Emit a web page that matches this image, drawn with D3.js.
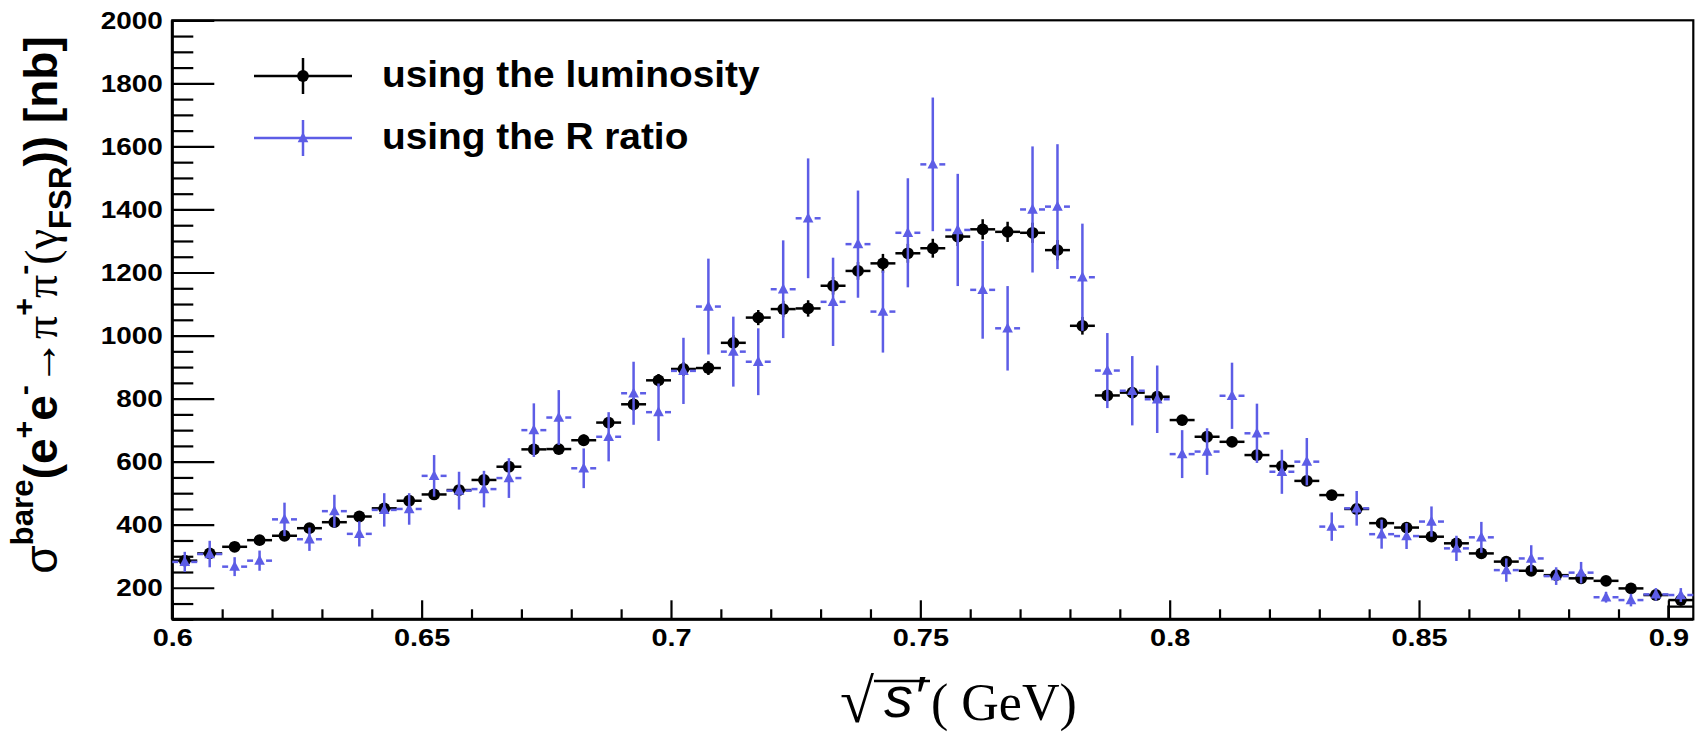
<!DOCTYPE html>
<html>
<head>
<meta charset="utf-8">
<script src="https://cdn.jsdelivr.net/npm/d3@7"></script>
<style>
  html, body { margin: 0; padding: 0; background: #ffffff; }
  svg { display: block; }
</style>
</head>
<body>
<svg id="chart" width="1702" height="740"></svg>
<script>
// Bin centres of sqrt(s') in GeV (bins 5 MeV wide)
const binCenters = [
  0.6025, 0.6075, 0.6125, 0.6175, 0.6225, 0.6275, 0.6325, 0.6375, 0.6425, 0.6475,
  0.6525, 0.6575, 0.6625, 0.6675, 0.6725, 0.6775, 0.6825, 0.6875, 0.6925, 0.6975,
  0.7025, 0.7075, 0.7125, 0.7175, 0.7225, 0.7275, 0.7325, 0.7375, 0.7425, 0.7475,
  0.7525, 0.7575, 0.7625, 0.7675, 0.7725, 0.7775, 0.7825, 0.7875, 0.7925, 0.7975,
  0.8025, 0.8075, 0.8125, 0.8175, 0.8225, 0.8275, 0.8325, 0.8375, 0.8425, 0.8475,
  0.8525, 0.8575, 0.8625, 0.8675, 0.8725, 0.8775, 0.8825, 0.8875, 0.8925, 0.8975,
  0.9025
];
const binHalfWidth = 0.0025;

// Cross section obtained with the luminosity (nb)
const lumiValues = [
  286, 309, 330, 351, 365, 389, 408, 426, 452, 476,
  496, 510, 542, 584, 639, 640, 668, 724, 782, 858,
  894, 897, 977, 1057, 1084, 1086, 1158, 1205, 1229, 1261,
  1277, 1314, 1337, 1329, 1326, 1271, 1031, 810, 819, 806,
  732, 679, 663, 621, 586, 539, 494, 450, 405, 391,
  362, 341, 309, 283, 254, 240, 230, 222, 198, 177,
  161
];
const lumiErrors = [
  8, 8, 8, 8, 10, 10, 10, 10, 12, 12,
  12, 12, 14, 14, 16, 16, 18, 18, 20, 20,
  22, 22, 24, 24, 26, 26, 28, 28, 30, 30,
  30, 30, 32, 32, 32, 32, 28, 18, 18, 18,
  16, 16, 16, 14, 14, 14, 12, 12, 10, 10,
  10, 10, 9, 9, 8, 8, 8, 7, 7, 6,
  6
];

// Cross section obtained with the R ratio (nb)
const ratioValues = [
  282, 307, 267, 286, 417, 354, 443, 371, 447, 450,
  555, 508, 513, 548, 700, 740, 579, 679, 817, 757,
  888, 1092, 949, 917, 1147, 1372, 1107, 1290, 1076, 1326,
  1543, 1335, 1145, 1023, 1400, 1409, 1185, 889, 825, 798,
  624, 632, 809, 690, 568, 600, 394, 452, 370, 364,
  410, 325, 360, 256, 293, 237, 248, 170, 161, 179,
  177
];
const ratioErrors = [
  32, 42, 30, 32, 53, 37, 52, 40, 53, 50,
  66, 60, 58, 63, 85, 87, 63, 78, 100, 91,
  105, 152, 111, 106, 155, 190, 140, 170, 130, 173,
  212, 178, 155, 134, 200, 198, 170, 119, 110, 107,
  76, 74, 105, 94, 70, 75, 45, 55, 46, 41,
  48, 40, 49, 37, 42, 28, 34, 17, 20, 20,
  22
];

// Single reference bin drawn at the upper edge of the range
const edgeBin = { low: 0.900, high: 0.905, value: 140 };

const seriesNames = ["using the luminosity", "using the R ratio"];

const xMajorTicks = [0.60, 0.65, 0.70, 0.75, 0.80, 0.85, 0.90];
const xTickLabels = ["0.6", "0.65", "0.7", "0.75", "0.8", "0.85", "0.9"];
const yMajorTicks = [200, 400, 600, 800, 1000, 1200, 1400, 1600, 1800, 2000];
const yTickLabels = ["200", "400", "600", "800", "1000", "1200", "1400", "1600", "1800", "2000"];

// ---------------------------------------------------------------------------
const BLACK = "#000000";
const BLUE = "#5d5de6";
const SANS = "'Liberation Sans', Arial, Helvetica, sans-serif";
const SERIF = "'Liberation Serif', 'Times New Roman', Times, serif";

const svg = d3.select("#chart");

const plot = { left: 172.3, right: 1693.3, top: 20.3, bottom: 619.3 };

const x = d3.scaleLinear().domain([0.6, 0.905]).range([plot.left, plot.right]);
const y = d3.scaleLinear().domain([100, 2000]).range([plot.bottom, plot.top]);

// minor tick positions
const xMinorTicks = d3.range(61, 91).map(d => d / 100).filter(d => Math.round(d * 100) % 5 !== 0);
const yMinorTicks = d3.range(100, 2001, 50).filter(d => d % 200 !== 0);

// ---------------------------------------------------------------------------
// Axes
const axisG = svg.append("g").attr("class", "axes");

const xMinor = axisG.append("g")
  .attr("transform", `translate(0,${plot.bottom})`)
  .call(d3.axisBottom(x).tickValues(xMinorTicks).tickFormat("").tickSizeInner(-10).tickSizeOuter(0));
xMinor.select(".domain").remove();

const xMajor = axisG.append("g")
  .attr("transform", `translate(0,${plot.bottom})`)
  .call(d3.axisBottom(x).tickValues(xMajorTicks)
    .tickFormat((d, i) => xTickLabels[i])
    .tickSizeInner(-19).tickSizeOuter(0).tickPadding(9));
xMajor.select(".domain").remove();

const yMinor = axisG.append("g")
  .attr("transform", `translate(${plot.left},0)`)
  .call(d3.axisLeft(y).tickValues(yMinorTicks).tickFormat("").tickSizeInner(-21).tickSizeOuter(0));
yMinor.select(".domain").remove();

const yMajor = axisG.append("g")
  .attr("transform", `translate(${plot.left},0)`)
  .call(d3.axisLeft(y).tickValues(yMajorTicks)
    .tickFormat((d, i) => yTickLabels[i])
    .tickSizeInner(-42).tickSizeOuter(0).tickPadding(9.5));
yMajor.select(".domain").remove();

axisG.selectAll(".tick line").attr("stroke", BLACK).attr("stroke-width", 2.2);
axisG.selectAll(".tick text")
  .attr("fill", BLACK)
  .style("font-family", SANS)
  .style("font-weight", "bold")
  .style("font-size", "24.5px");
// the label glyphs are set a little wider than the plain face
xMajor.selectAll(".tick text").attr("transform", "scale(1.18,1)");
yMajor.selectAll(".tick text").attr("transform", "translate(-9.5,0) scale(1.14,1) translate(9.5,0)");

// frame
svg.append("rect")
  .attr("x", plot.left).attr("y", plot.top)
  .attr("width", plot.right - plot.left).attr("height", plot.bottom - plot.top)
  .attr("fill", "none").attr("stroke", BLACK).attr("stroke-width", 2.2);
svg.append("line")
  .attr("x1", plot.left).attr("x2", plot.left).attr("y1", plot.top).attr("y2", plot.bottom)
  .attr("stroke", BLACK).attr("stroke-width", 3);
svg.append("line")
  .attr("x1", plot.left).attr("x2", plot.right).attr("y1", plot.bottom).attr("y2", plot.bottom)
  .attr("stroke", BLACK).attr("stroke-width", 3);

// ---------------------------------------------------------------------------
// Data
const dataG = svg.append("g").attr("class", "data");

// upper edge bin
dataG.append("path")
  .attr("d", `M${x(edgeBin.low)},${y(100)} V${y(edgeBin.value)} H${x(edgeBin.high)}`)
  .attr("fill", "none").attr("stroke", BLACK).attr("stroke-width", 2.2);

const lumi = binCenters.map((c, i) => ({ c, v: lumiValues[i], e: lumiErrors[i] }));
const ratio = binCenters.map((c, i) => ({ c, v: ratioValues[i], e: ratioErrors[i] }));

// luminosity points: full horizontal bar, vertical error bar, filled circle
const lg = dataG.append("g").selectAll("g").data(lumi).join("g");
lg.append("line")
  .attr("x1", d => x(d.c - binHalfWidth)).attr("x2", d => x(d.c + binHalfWidth))
  .attr("y1", d => y(d.v)).attr("y2", d => y(d.v))
  .attr("stroke", BLACK).attr("stroke-width", 2.5);
lg.append("line")
  .attr("x1", d => x(d.c)).attr("x2", d => x(d.c))
  .attr("y1", d => y(d.v - d.e)).attr("y2", d => y(d.v + d.e))
  .attr("stroke", BLACK).attr("stroke-width", 2.5);
lg.append("circle")
  .attr("cx", d => x(d.c)).attr("cy", d => y(d.v)).attr("r", 5.9)
  .attr("fill", BLACK);

// R-ratio points: split horizontal bar, vertical error bar, triangle
const gap = 6.5;
const tri = (cx, cy, s) => `M${cx},${cy - s * 1.05} L${cx + s * 0.95},${cy + s * 0.75} L${cx - s * 0.95},${cy + s * 0.75} Z`;
const rg = dataG.append("g").selectAll("g").data(ratio).join("g");
rg.append("line")
  .attr("x1", d => x(d.c - binHalfWidth)).attr("x2", d => x(d.c) - gap)
  .attr("y1", d => y(d.v)).attr("y2", d => y(d.v))
  .attr("stroke", BLUE).attr("stroke-width", 2.5);
rg.append("line")
  .attr("x1", d => x(d.c) + gap).attr("x2", d => Math.min(x(d.c + binHalfWidth), plot.right))
  .attr("y1", d => y(d.v)).attr("y2", d => y(d.v))
  .attr("stroke", BLUE).attr("stroke-width", 2.5);
rg.append("line")
  .attr("x1", d => x(d.c)).attr("x2", d => x(d.c))
  .attr("y1", d => y(d.v - d.e)).attr("y2", d => y(d.v + d.e))
  .attr("stroke", BLUE).attr("stroke-width", 2.5);
rg.append("path")
  .attr("d", d => tri(x(d.c), y(d.v), 5.6))
  .attr("fill", BLUE);

// ---------------------------------------------------------------------------
// Legend
const legend = svg.append("g").attr("class", "legend");
const legRows = [
  { name: seriesNames[0], color: BLACK, cy: 76, kind: "circle" },
  { name: seriesNames[1], color: BLUE, cy: 138, kind: "triangle" }
];
legRows.forEach(r => {
  const g = legend.append("g");
  g.append("line").attr("x1", 254).attr("x2", 352).attr("y1", r.cy).attr("y2", r.cy)
    .attr("stroke", r.color).attr("stroke-width", 2.5);
  g.append("line").attr("x1", 303).attr("x2", 303).attr("y1", r.cy - 18).attr("y2", r.cy + 18)
    .attr("stroke", r.color).attr("stroke-width", 2.5);
  if (r.kind === "circle") {
    g.append("circle").attr("cx", 303).attr("cy", r.cy).attr("r", 5.9).attr("fill", r.color);
  } else {
    g.append("path").attr("d", tri(303, r.cy, 5.6)).attr("fill", r.color);
  }
  g.append("text")
    .attr("transform", `translate(382,${r.cy + 11}) scale(1.05,1)`)
    .style("font-family", SANS).style("font-weight", "bold").style("font-size", "37px")
    .attr("fill", BLACK)
    .text(r.name);
});

// ---------------------------------------------------------------------------
// Y axis title: sigma^bare(e+e- -> pi+pi-(gamma_FSR)) [nb]
const yTitleParts = [
  { t: "σ", f: SANS, w: "normal", s: 1, sh: 0 },
  { t: "bare", f: SANS, w: "bold", s: 0.68, sh: -0.52 },
  { t: "(e", f: SANS, w: "bold", s: 1, sh: 0 },
  { t: "+", f: SANS, w: "bold", s: 0.66, sh: -0.5 },
  { t: "e", f: SANS, w: "bold", s: 1, sh: 0 },
  { t: "-", f: SANS, w: "bold", s: 0.66, sh: -0.5 },
  { t: "→", f: SERIF, w: "normal", s: 1, sh: 0 },
  { t: "π", f: SERIF, w: "normal", s: 1, sh: 0 },
  { t: "+", f: SANS, w: "bold", s: 0.66, sh: -0.5 },
  { t: "π", f: SERIF, w: "normal", s: 1, sh: 0 },
  { t: "-", f: SANS, w: "bold", s: 0.66, sh: -0.5 },
  { t: "(", f: SERIF, w: "normal", s: 1, sh: 0 },
  { t: "γ", f: SERIF, w: "normal", s: 1, sh: 0 },
  { t: "FSR", f: SANS, w: "bold", s: 0.68, sh: 0.3 },
  { t: "))", f: SANS, w: "bold", s: 1, sh: 0 },
  { t: " [nb]", f: SANS, w: "bold", s: 1, sh: 0 }
];
const yTitleSize = 46;
const yTitle = svg.append("text")
  .attr("transform", "translate(57,305) rotate(-90)")
  .attr("text-anchor", "middle")
  .attr("fill", BLACK);
let shift = 0;
yTitleParts.forEach(p => {
  const target = p.sh * yTitleSize;
  yTitle.append("tspan")
    .attr("dy", target - shift)
    .style("font-family", p.f)
    .style("font-weight", p.w)
    .style("font-size", (p.s * yTitleSize) + "px")
    .text(p.t);
  shift = target;
});

// ---------------------------------------------------------------------------
// X axis title: sqrt(s') ( GeV)
const xTitle = svg.append("g").attr("class", "x-title");
xTitle.append("text")
  .attr("x", 840).attr("y", 722)
  .style("font-family", SERIF).style("font-size", "62px").attr("fill", BLACK)
  .text("√");
xTitle.append("line")
  .attr("x1", 874).attr("x2", 930).attr("y1", 681).attr("y2", 681)
  .attr("stroke", BLACK).attr("stroke-width", 2.4);
xTitle.append("text")
  .attr("x", 884).attr("y", 717)
  .style("font-family", SANS).style("font-style", "italic").style("font-size", "58px").attr("fill", BLACK)
  .text("s′");
xTitle.append("text")
  .attr("x", 931).attr("y", 720)
  .style("font-family", SERIF).style("font-size", "52px").attr("fill", BLACK)
  .text("( GeV)");
</script>
</body>
</html>
